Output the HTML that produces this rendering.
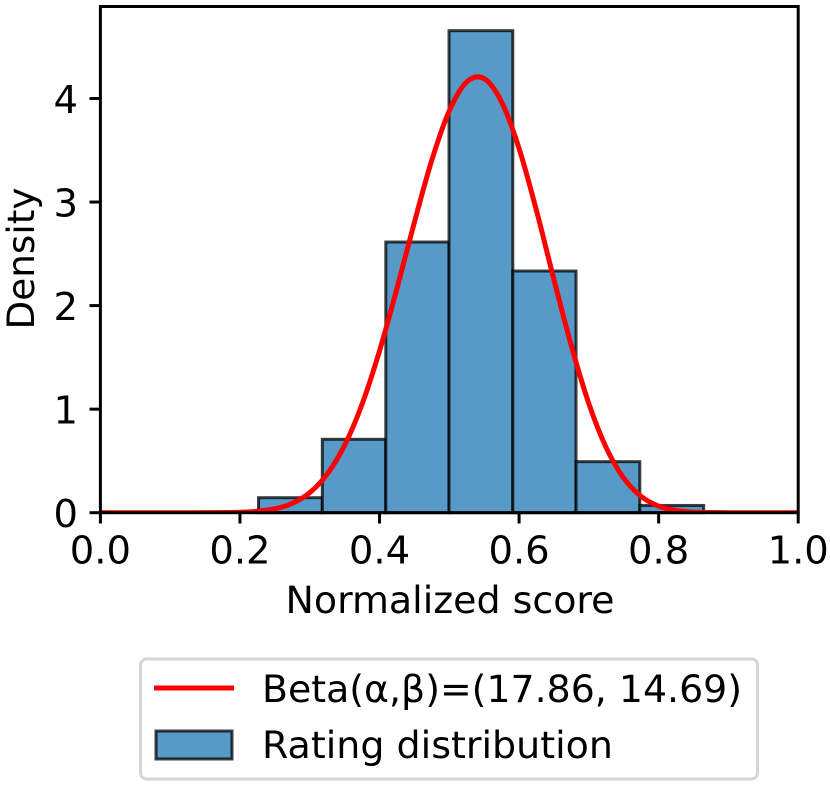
<!DOCTYPE html>
<html lang="en">
<head>
<meta charset="utf-8">
<title>Normalized score density chart</title>
<style>
html,body{margin:0;padding:0;background:#fff;width:830px;height:788px;overflow:hidden}
svg{display:block}
text{font-family:"DejaVu Sans","Liberation Sans",sans-serif;fill:#000}
</style>
</head>
<body>
<svg id="chart" width="830" height="788" viewBox="0 0 830 788" xmlns="http://www.w3.org/2000/svg">
  <defs><clipPath id="plot-clip"><rect x="100.4" y="6.5" width="697.8" height="506.2"/></clipPath></defs>
  <g id="bars"></g>
  <g id="curve" clip-path="url(#plot-clip)"></g>
  <g id="ticks"></g>
  <rect x="100.4" y="6.5" width="697.8" height="506.2" fill="none" stroke="#000" stroke-width="3"/>
  <text x="450" y="613" font-size="37" text-anchor="middle" textLength="329" lengthAdjust="spacingAndGlyphs">Normalized score</text>
  <text transform="translate(34,258.5) rotate(-90)" font-size="37" text-anchor="middle" textLength="142" lengthAdjust="spacingAndGlyphs">Density</text>
  <g>
    <rect x="140.5" y="659" width="617" height="120" rx="6" fill="#fff" stroke="#d6d6d6" stroke-width="3"/>
    <line x1="154" y1="688" x2="234" y2="688" stroke="#f00" stroke-width="5"/>
    <text x="262" y="702" font-size="37" textLength="480" lengthAdjust="spacingAndGlyphs">Beta(α,β)=(17.86, 14.69)</text>
    <rect x="156" y="731" width="76" height="28" fill="#5799c7" stroke="#000" stroke-opacity="0.75" stroke-width="3"/>
    <text x="262" y="758" font-size="37" textLength="351" lengthAdjust="spacingAndGlyphs">Rating distribution</text>
  </g>
</svg>
<script>
const binEdges = [0.2266, 0.318, 0.409, 0.4996, 0.591, 0.6816, 0.773, 0.8645];
const binDensities = [0.145, 0.709, 2.614, 4.655, 2.334, 0.493, 0.07];
const curveScores = [0, 0.1, 0.15, 0.2, 0.225, 0.25, 0.275, 0.3, 0.325, 0.35, 0.375, 0.4, 0.425, 0.45, 0.475, 0.5, 0.525, 0.55, 0.575, 0.6, 0.625, 0.65, 0.675, 0.7, 0.725, 0.75, 0.775, 0.8, 0.825, 0.85, 0.9, 1];
const curveDensities = [0, 0, 0.0003, 0.004, 0.014, 0.037, 0.09, 0.193, 0.373, 0.651, 1.048, 1.563, 2.166, 2.805, 3.406, 3.882, 4.16, 4.191, 3.966, 3.517, 2.916, 2.25, 1.61, 1.053, 0.626, 0.333, 0.157, 0.063, 0.021, 0.005, 0.0001, 0];
const xTickValues = [0, 0.2, 0.4, 0.6, 0.8, 1];
const xTickLabels = ["0.0", "0.2", "0.4", "0.6", "0.8", "1.0"];
const yTickValues = [0, 1, 2, 3, 4];
const yTickLabels = ["0", "1", "2", "3", "4"];

const SVG_NS = "http://www.w3.org/2000/svg";
const xScale = v => 100.4 + v * 697.8;
const yScale = v => 512.7 - v * 103.55;

function make(tag, attrs, parent, text) {
  const el = document.createElementNS(SVG_NS, tag);
  for (const k in attrs) el.setAttribute(k, attrs[k]);
  if (text !== undefined) el.textContent = text;
  parent.appendChild(el);
  return el;
}

const barsLayer = document.getElementById("bars");
binDensities.forEach((d, i) => {
  const x0 = xScale(binEdges[i]);
  const x1 = xScale(binEdges[i + 1]);
  const bar = make("rect", {
    x: x0, y: yScale(d), width: x1 - x0, height: yScale(0) - yScale(d),
    fill: "#5799c7", stroke: "#000", "stroke-opacity": 0.75, "stroke-width": 3
  }, barsLayer);
  
  
});

const curvePts = curveScores.map((s, i) => [xScale(s), yScale(curveDensities[i])]);
let curvePath = "M" + curvePts[0][0] + " " + curvePts[0][1];
for (let i = 0; i < curvePts.length - 1; i++) {
  const p0 = curvePts[Math.max(i - 1, 0)];
  const p1 = curvePts[i];
  const p2 = curvePts[i + 1];
  const p3 = curvePts[Math.min(i + 2, curvePts.length - 1)];
  const c1y = Math.min(yScale(0), p1[1] + (p2[1] - p0[1]) / 6);
  const c2y = Math.min(yScale(0), p2[1] - (p3[1] - p1[1]) / 6);
  curvePath += " C" + (p1[0] + (p2[0] - p0[0]) / 6) + " " + c1y + " " + (p2[0] - (p3[0] - p1[0]) / 6) + " " + c2y + " " + p2[0] + " " + p2[1];
}
const curveLine = make("path", { d: curvePath, fill: "none", stroke: "#f00", "stroke-width": 5, "stroke-linejoin": "round" }, document.getElementById("curve"));



const ticksLayer = document.getElementById("ticks");
xTickValues.forEach((v, i) => {
  const x = xScale(v);
  const mark = make("line", { x1: x, x2: x, y1: 512.7, y2: 523.5, stroke: "#000", "stroke-width": 3 }, ticksLayer);
  
  
  const label = make("text", { x: x, y: 563.5, "font-size": 38.5, "text-anchor": "middle" }, ticksLayer, xTickLabels[i]);
  
  
});
yTickValues.forEach((v, i) => {
  const y = yScale(v);
  const mark = make("line", { x1: 89.5, x2: 100.4, y1: y, y2: y, stroke: "#000", "stroke-width": 3 }, ticksLayer);
  
  
  const label = make("text", { x: 78, y: y + 14.5, "font-size": 38.5, "text-anchor": "end" }, ticksLayer, yTickLabels[i]);
  
  
});
</script>
</body>
</html>
